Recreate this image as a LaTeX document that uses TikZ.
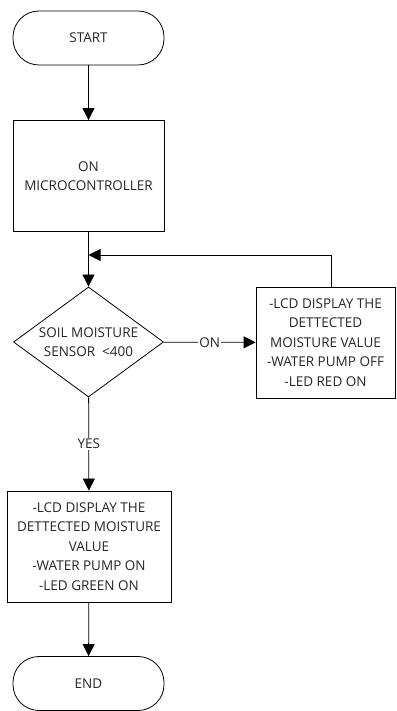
\documentclass[tikz,border=0pt]{standalone}
\usepackage{fontspec}
\setmainfont{Open Sans}
\usetikzlibrary{positioning,arrows.meta,shapes.geometric}

\begin{document}
\begin{tikzpicture}[>={Triangle[length=12pt,width=12pt]},
			x=1pt,y=1pt,
			line width=0.8pt,
			every node/.style={
				align=center,
				text=black!85,
				font=\fontsize{13.5}{19.5}\selectfont
			},
			terminal/.style={
				draw,
				rounded corners=26pt,
				minimum width=151pt,
				minimum height=54pt
			},
			process/.style={
				draw,
				minimum height=111pt,
				inner sep=1pt
			},
			decision/.style={
				draw,
				diamond,
				aspect=1.36,
				inner sep=-4pt,
				minimum width=150pt,
				minimum height=110pt
			},
			linelabel/.style={
				fill=white,
				inner sep=1pt
			}]
			
			\useasboundingbox (0,0) rectangle (396,711);
			
			\node[terminal] (start) at (88.5,673){START};
			
			\node[process,minimum width=151pt] (mcu) at (88.5,535){ON\\MICROCONTROLLER};
			
			\node[decision] (sensor) at (88.5,369){SOIL MOISTURE\\SENSOR~~\textless400};
			
			\node[process,minimum width=139pt] (redbox) at (325.5,368.5){-LCD DISPLAY THE\\DETTECTED\\MOISTURE VALUE\\-WATER PUMP OFF\\-LED RED ON};
			
			\node[process,minimum width=164pt] (greenbox) at (89,164.5){-LCD DISPLAY THE\\DETTECTED MOISTURE\\VALUE\\-WATER PUMP ON\\-LED GREEN ON};
			
			\node[terminal] (end) at (88.5,27.5){END};
			
			\coordinate (merge) at (88.5,456);
			
			\draw[->](start)--(mcu);
			
			\draw[->](mcu)--(sensor);
			
			\draw[->](sensor)--node[linelabel,pos=0.5]{ON}(redbox);
			
			\draw[->](redbox.north -| 331,0)|-(merge);
			
			\draw[->](sensor)--node[linelabel,pos=0.5]{YES}(greenbox);
			
			\draw[->](greenbox)--(end);
			
		\end{tikzpicture}
\end{document}
